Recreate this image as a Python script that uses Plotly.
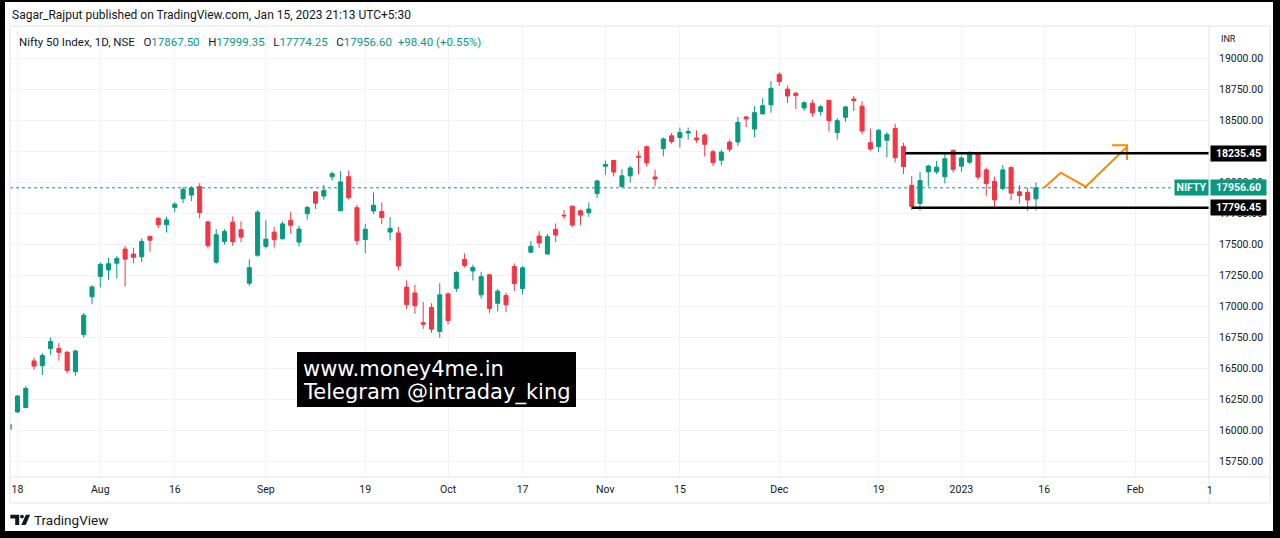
import plotly.graph_objects as go

# ---------------- data ----------------
dates = [
    "2022-07-15", "2022-07-18", "2022-07-19", "2022-07-20", "2022-07-21", "2022-07-22",
    "2022-07-25", "2022-07-26", "2022-07-27", "2022-07-28", "2022-07-29",
    "2022-08-01", "2022-08-02", "2022-08-03", "2022-08-04", "2022-08-05",
    "2022-08-08", "2022-08-10", "2022-08-11", "2022-08-12",
    "2022-08-16", "2022-08-17", "2022-08-18", "2022-08-19",
    "2022-08-22", "2022-08-23", "2022-08-24", "2022-08-25", "2022-08-26",
    "2022-08-29", "2022-08-30",
    "2022-09-01", "2022-09-02", "2022-09-05", "2022-09-06", "2022-09-07", "2022-09-08",
    "2022-09-09", "2022-09-12", "2022-09-13", "2022-09-14", "2022-09-15", "2022-09-16",
    "2022-09-19", "2022-09-20", "2022-09-21", "2022-09-22", "2022-09-23",
    "2022-09-26", "2022-09-27", "2022-09-28", "2022-09-29", "2022-09-30",
    "2022-10-03", "2022-10-04", "2022-10-06", "2022-10-07",
    "2022-10-10", "2022-10-11", "2022-10-12", "2022-10-13", "2022-10-14",
    "2022-10-17", "2022-10-18", "2022-10-19", "2022-10-20", "2022-10-21",
    "2022-10-24", "2022-10-25", "2022-10-27", "2022-10-28", "2022-10-31",
    "2022-11-01", "2022-11-02", "2022-11-03", "2022-11-04",
    "2022-11-07", "2022-11-09", "2022-11-10", "2022-11-11",
    "2022-11-14", "2022-11-15", "2022-11-16", "2022-11-17", "2022-11-18",
    "2022-11-21", "2022-11-22", "2022-11-23", "2022-11-24", "2022-11-25",
    "2022-11-28", "2022-11-29", "2022-11-30",
    "2022-12-01", "2022-12-02", "2022-12-05", "2022-12-06", "2022-12-07", "2022-12-08",
    "2022-12-09", "2022-12-12", "2022-12-13", "2022-12-14", "2022-12-15", "2022-12-16",
    "2022-12-19", "2022-12-20", "2022-12-21", "2022-12-22", "2022-12-23",
    "2022-12-26", "2022-12-27", "2022-12-28", "2022-12-29", "2022-12-30",
    "2023-01-02", "2023-01-03", "2023-01-04", "2023-01-05", "2023-01-06",
    "2023-01-09", "2023-01-10", "2023-01-11", "2023-01-12", "2023-01-13",
]
opens = [
    16012, 16151, 16187, 16562, 16523, 16661,
    16662, 16632, 16475, 16774, 17079,
    17243, 17295, 17349, 17463, 17423,
    17401, 17566, 17711, 17659,
    17797, 17868, 17898, 17966,
    17682, 17357, 17525, 17679, 17619,
    17188, 17414,
    17485, 17599, 17546, 17695, 17519, 17748,
    17924, 17890, 18045, 17771, 18046, 17796,
    17540, 17770, 17766, 17600, 17593,
    17157, 17110, 16870, 16993, 16799,
    17102, 17147, 17379, 17287,
    17094, 17256, 17026, 17088, 17322,
    17145, 17438, 17568, 17423, 17622,
    17736, 17809, 17771, 17756, 17910,
    18130, 18177, 17968, 18053,
    18211, 18288, 18044, 18272,
    18376, 18362, 18398, 18358, 18382,
    18247, 18179, 18325, 18326, 18528,
    18430, 18552, 18625,
    18871, 18752, 18719, 18600, 18638, 18570,
    18662, 18402, 18525, 18672, 18614, 18320,
    18288, 18340, 18435, 18289, 17977,
    17831, 18085, 18085, 18046, 18259,
    18131, 18163, 18230, 18101, 18009,
    17952, 18121, 17924, 17920, 17867.50,
]
highs = [
    16066, 16287, 16360, 16588, 16627, 16752,
    16706, 16640, 16653, 16948, 17172,
    17356, 17392, 17407, 17490, 17474,
    17548, 17566, 17719, 17724,
    17840, 17965, 17970, 17993,
    17690, 17625, 17623, 17726, 17686,
    17380, 17777,
    17695, 17643, 17684, 17764, 17650, 17810,
    17925, 17980, 18088, 18092, 18096, 17820,
    17667, 17919, 17838, 17722, 17642,
    17211, 17176, 17037, 17026, 17188,
    17114, 17287, 17428, 17337,
    17280, 17261, 17142, 17112, 17348,
    17328, 17527, 17607, 17584, 17670,
    17778, 17812, 17783, 17838, 18022,
    18176, 18178, 18106, 18135,
    18255, 18297, 18103, 18363,
    18399, 18442, 18442, 18420, 18394,
    18262, 18261, 18345, 18529, 18534,
    18614, 18678, 18816,
    18887, 18781, 18728, 18654, 18668, 18625,
    18665, 18518, 18617, 18696, 18653, 18435,
    18431, 18405, 18473, 18319, 18051,
    18085, 18143, 18173, 18229, 18265,
    18215, 18251, 18243, 18120, 18047,
    18141, 18127, 17979, 17955, 17999.35,
]
lows = [
    15927, 16142, 16186, 16490, 16448, 16610,
    16564, 16460, 16443, 16750, 17019,
    17154, 17215, 17226, 17161, 17349,
    17359, 17442, 17631, 17597,
    17760, 17833, 17850, 17710,
    17467, 17345, 17499, 17488, 17519,
    17166, 17401,
    17468, 17476, 17540, 17587, 17484, 17700,
    17786, 17860, 18015, 17771, 17861, 17497,
    17429, 17745, 17662, 17532, 17291,
    16979, 16942, 16820, 16788, 16748,
    16855, 17117, 17315, 17210,
    17064, 16945, 16960, 16956, 17124,
    17098, 17434, 17472, 17421, 17520,
    17707, 17637, 17654, 17723, 17875,
    18061, 18048, 17959, 18000,
    18064, 18127, 17970, 18210,
    18311, 18282, 18344, 18319, 18209,
    18133, 18137, 18246, 18294, 18445,
    18365, 18552, 18562,
    18778, 18639, 18591, 18577, 18528, 18536,
    18410, 18346, 18489, 18575, 18387, 18255,
    18244, 18202, 18162, 18068, 17780,
    17774, 17967, 18068, 17992, 18080,
    18086, 18149, 18020, 17892, 17796,
    17936, 17856, 17829, 17770, 17774.25,
]
closes = [
    16049, 16279, 16340, 16520, 16606, 16719,
    16631, 16484, 16642, 16930, 17158,
    17340, 17345, 17388, 17382, 17397,
    17525, 17535, 17659, 17698,
    17825, 17944, 17956, 17758,
    17491, 17578, 17605, 17523, 17559,
    17313, 17760,
    17543, 17539, 17666, 17655, 17624, 17798,
    17833, 17936, 18070, 18004, 17877, 17531,
    17623, 17816, 17718, 17630, 17327,
    17016, 17007, 16858, 16818, 17094,
    16887, 17274, 17331, 17315,
    17241, 16984, 17124, 17014, 17186,
    17312, 17486, 17512, 17563, 17576,
    17731, 17656, 17737, 17786, 18012,
    18145, 18083, 18053, 18117,
    18203, 18157, 18028, 18350,
    18329, 18403, 18410, 18343, 18307,
    18159, 18244, 18267, 18484, 18512,
    18562, 18618, 18758,
    18812, 18696, 18701, 18642, 18560, 18609,
    18497, 18497, 18608, 18660, 18414, 18269,
    18420, 18385, 18199, 18127, 17807,
    18015, 18132, 18123, 18191, 18105,
    18197, 18233, 18043, 17992, 17859,
    18101, 17914, 17895, 17858.20, 17956.60,
]

# NSE trading holidays in the window (removed from the time scale)
holidays = ["2022-08-09", "2022-08-15", "2022-08-31", "2022-10-05",
            "2022-10-26", "2022-11-08", "2023-01-26"]

# time axis ticks
x_tick_dates = ["2022-07-18", "2022-08-01", "2022-08-16", "2022-09-01", "2022-09-19",
                "2022-10-03", "2022-10-17", "2022-11-01", "2022-11-15", "2022-12-01",
                "2022-12-19", "2023-01-02", "2023-01-16", "2023-02-01"]
x_tick_text = ["18", "Aug", "16", "Sep", "19", "Oct", "17", "Nov", "15", "Dec",
               "19", "2023", "16", "Feb"]
x_range = ["2022-07-15 02:19", "2023-02-13 21:36"]

# price axis ticks (18250 is fully covered by a level label in the reference)
price_ticks = [15750, 16000, 16250, 16500, 16750, 17000, 17250, 17500,
               17750, 18000, 18250, 18500, 18750, 19000]
price_tick_text = ["15750.00", "16000.00", "16250.00", "16500.00", "16750.00",
                   "17000.00", "17250.00", "17500.00", "17750.00", "18000.00",
                   "", "18500.00", "18750.00", "19000.00"]
y_range = [15626.7, 19260.2]

# drawings
last_close = 17956.60
level_prices = [18235.45, 17796.45]
level_starts = ["2022-12-22 05:00", "2022-12-23 00:00"]
arrow_x = ["2023-01-16", "2023-01-18", "2023-01-23", "2023-01-31"]
arrow_y = [17960, 18078, 17966, 18288]
head_x = ["2023-01-27 05:00", "2023-01-31", "2023-01-31"]
head_y = [18299, 18299, 18181]

# ---------------- styling ----------------
W, H = 1280, 538
UP = "#089981"
DOWN = "#F23645"
TXT = "#131722"
GRID = "#f0f3fa"
BORDER = "#e0e3eb"
ORANGE = "#FB8C00"
FONT = "Roboto"


def fx(p):
    return p / W


def fy(p):
    return 1 - p / H


def path(points):
    return "M" + " L".join(f"{fx(x):.5f},{fy(y):.5f}" for x, y in points) + " Z"


PANE_L, PANE_R, PANE_T, PANE_B = 10, 1209, 26, 477

fig = go.Figure()
fig.add_trace(go.Candlestick(
    x=dates, open=opens, high=highs, low=lows, close=closes,
    increasing=dict(line=dict(color=UP, width=1), fillcolor=UP),
    decreasing=dict(line=dict(color=DOWN, width=1), fillcolor=DOWN),
    whiskerwidth=0, showlegend=False, hoverinfo="skip",
))
fig.add_trace(go.Scatter(x=arrow_x, y=arrow_y, mode="lines",
                         line=dict(color=ORANGE, width=2), showlegend=False,
                         hoverinfo="skip"))
fig.add_trace(go.Scatter(x=head_x, y=head_y, mode="lines",
                         line=dict(color=ORANGE, width=2), showlegend=False,
                         hoverinfo="skip"))

shapes = []
# dotted last price line
shapes.append(dict(type="line", xref="paper", yref="y", x0=fx(PANE_L), x1=fx(1174),
                   y0=last_close, y1=last_close,
                   line=dict(color=UP, width=1, dash="dot")))
# horizontal levels
for p, s in zip(level_prices, level_starts):
    shapes.append(dict(type="line", xref="x", yref="y", x0=s, x1=x_range[1],
                       y0=p, y1=p, line=dict(color="black", width=2.5)))
# widget border & separators
shapes.append(dict(type="rect", xref="paper", yref="paper", x0=fx(10), x1=fx(1270),
                   y0=fy(503), y1=fy(26), line=dict(color=BORDER, width=1)))
shapes.append(dict(type="line", xref="paper", yref="paper", x0=fx(PANE_R), x1=fx(PANE_R),
                   y0=fy(503), y1=fy(26), line=dict(color=BORDER, width=1)))
shapes.append(dict(type="line", xref="paper", yref="paper", x0=fx(10), x1=fx(1270),
                   y0=fy(PANE_B), y1=fy(PANE_B), line=dict(color=BORDER, width=1)))
# watermark box
shapes.append(dict(type="rect", xref="paper", yref="paper", x0=fx(297), x1=fx(576),
                   y0=fy(407), y1=fy(352), fillcolor="black", line=dict(width=0)))
# TradingView logo
shapes.append(dict(type="path", xref="paper", yref="paper", fillcolor=TXT, line=dict(width=0),
                   path=path([(10.3, 514.8), (19.2, 514.8), (19.2, 525), (15.2, 525),
                              (15.2, 518.4), (10.3, 518.4)])))
shapes.append(dict(type="circle", xref="paper", yref="paper", fillcolor=TXT, line=dict(width=0),
                   x0=fx(20.1), x1=fx(23.9), y0=fy(518.5), y1=fy(514.7)))
shapes.append(dict(type="path", xref="paper", yref="paper", fillcolor=TXT, line=dict(width=0),
                   path=path([(21.3, 525), (25.8, 514.8), (30.2, 514.8), (25.7, 525)])))
# outer black frame
for x0, y0, x1, y1 in [(0, 0, 5, H), (0, 0, W, 2), (1273, 0, W, H), (0, 531, W, H)]:
    shapes.append(dict(type="rect", xref="paper", yref="paper", x0=fx(x0), x1=fx(x1),
                       y0=fy(y1), y1=fy(y0), fillcolor="black", line=dict(width=0)))

ann = []
ann.append(dict(xref="paper", yref="paper", x=fx(10), y=fy(15), xanchor="left",
                yanchor="middle", showarrow=False,
                text="Sagar_Rajput published on TradingView.com, Jan 15, 2023 21:13 UTC+5:30",
                font=dict(family=FONT, size=12, color=TXT)))


def g(t):
    return f'<span style="color:{UP}">{t}</span>'


chg = closes[-1] - closes[-2]
legend_text = ("Nifty 50 Index, 1D, NSE&nbsp;&nbsp;&nbsp;O" + g(f"{opens[-1]:.2f}") +
               "&nbsp;&nbsp;&nbsp;H" + g(f"{highs[-1]:.2f}") +
               "&nbsp;&nbsp;&nbsp;L" + g(f"{lows[-1]:.2f}") +
               "&nbsp;&nbsp;&nbsp;C" + g(f"{closes[-1]:.2f}") +
               "&nbsp;&nbsp;" + g(f"{chg:+.2f} ({chg / closes[-2] * 100:+.2f}%)"))
ann.append(dict(xref="paper", yref="paper", x=fx(17), y=fy(42), xanchor="left",
                yanchor="middle", showarrow=False, text=legend_text,
                font=dict(family=FONT, size=11.5, color=TXT)))
ann.append(dict(xref="paper", yref="paper", x=fx(1219), y=fy(39), xanchor="left",
                yanchor="middle", showarrow=False, text="INR",
                font=dict(family=FONT, size=9, color=TXT)))
# price labels
for p in level_prices:
    ann.append(dict(xref="paper", yref="y", x=fx(1210), y=p, xanchor="left",
                    yanchor="middle", showarrow=False, text=f"<b>{p:.2f}</b>",
                    bgcolor="black", width=53, height=13, borderpad=1,
                    font=dict(family=FONT, size=10.5, color="white")))
ann.append(dict(xref="paper", yref="y", x=fx(1210), y=last_close, xanchor="left",
                yanchor="middle", showarrow=False, text=f"<b>{last_close:.2f}</b>",
                bgcolor=UP, width=53, height=13, borderpad=1,
                font=dict(family=FONT, size=10.5, color="white")))
ann.append(dict(xref="paper", yref="y", x=fx(1174), y=last_close, xanchor="left",
                yanchor="middle", showarrow=False, text="<b>NIFTY</b>",
                bgcolor=UP, width=31, height=13, borderpad=1,
                font=dict(family=FONT, size=10.5, color="white")))
# clipped time label at the pane edge
ann.append(dict(xref="paper", yref="paper", x=fx(1205), y=fy(490), xanchor="left",
                yanchor="middle", showarrow=False, text="1",
                font=dict(family=FONT, size=10, color=TXT)))
# watermark text
ann.append(dict(xref="paper", yref="paper", x=fx(301), y=fy(369), xanchor="left",
                yanchor="middle", showarrow=False, text="www.money4me.in",
                font=dict(family="DejaVu Sans", size=21, color="white")))
ann.append(dict(xref="paper", yref="paper", x=fx(301), y=fy(392), xanchor="left",
                yanchor="middle", showarrow=False, text="Telegram @intraday_king",
                font=dict(family="DejaVu Sans", size=21, color="white")))
# footer
ann.append(dict(xref="paper", yref="paper", x=fx(32), y=fy(520), xanchor="left",
                yanchor="middle", showarrow=False, text="TradingView",
                font=dict(family=FONT, size=13.5, color=TXT)))

fig.update_layout(
    width=W, height=H, margin=dict(l=0, r=0, t=0, b=0),
    paper_bgcolor="white", plot_bgcolor="white",
    showlegend=False, boxgap=0.3, boxgroupgap=0.3,
    shapes=shapes, annotations=ann,
    xaxis=dict(
        domain=[fx(PANE_L), fx(PANE_R)], type="date", range=x_range,
        rangeslider=dict(visible=False),
        rangebreaks=[dict(bounds=["sat", "mon"]), dict(values=holidays)],
        tickmode="array", tickvals=x_tick_dates, ticktext=x_tick_text,
        showgrid=True, gridcolor=GRID, gridwidth=1, zeroline=False,
        showline=False, ticks="", tickfont=dict(family=FONT, size=10.5, color=TXT),
        ticklabelstandoff=4, fixedrange=True,
    ),
    yaxis=dict(
        domain=[fy(PANE_B), fy(PANE_T)], range=y_range, side="right",
        tickmode="array", tickvals=price_ticks, ticktext=price_tick_text,
        showgrid=True, gridcolor=GRID, gridwidth=1, zeroline=False,
        showline=False, ticks="", tickfont=dict(family=FONT, size=10.5, color=TXT),
        ticklabelstandoff=9, fixedrange=True,
    ),
)

fig.write_html("out.html", config=dict(displayModeBar=False),
               post_script="document.body.style.margin='0';document.body.style.overflow='hidden';")
